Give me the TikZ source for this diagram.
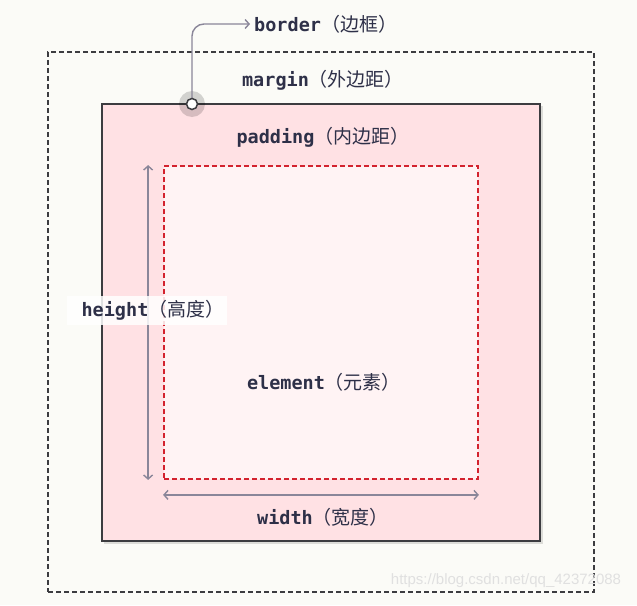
\documentclass[tikz,border=0pt]{standalone}
\usepackage{fontspec}
\setmonofont{DejaVu Sans Mono}
\newfontfamily\cjk{Noto Sans CJK SC}
\newfontfamily\wmfont{Liberation Sans}
\usetikzlibrary{arrows.meta}
\usetikzlibrary{positioning}

\definecolor{paper}{HTML}{FBFBF7}
\definecolor{ink}{HTML}{2E3048}
\definecolor{edge}{HTML}{3C3C40}
\definecolor{padfill}{HTML}{FFE1E4}
\definecolor{elemfill}{HTML}{FFF3F4}
\definecolor{elemred}{HTML}{D3222E}
\definecolor{dimgray}{HTML}{8A8699}

\newcommand{\boxtext}[2]{{\fontsize{18.5}{22}\selectfont\ttfamily\bfseries #1}{\fontsize{19}{22}\selectfont\cjk （#2）}}

\begin{document}
\begin{tikzpicture}[
		x=1pt, y=-1pt,
		label text/.style={text=ink, inner sep=4pt},
		marginbox/.style={draw=edge, line width=1.8pt, dash pattern=on 5pt off 3pt, minimum width=546pt, minimum height=540pt},
		borderbox/.style={draw=edge, fill=padfill, line width=2pt, minimum width=438pt, minimum height=437pt},
		elembox/.style={draw=elemred, fill=elemfill, line width=1.8pt, dash pattern=on 5pt off 3pt, minimum width=314pt, minimum height=313pt},
		dim/.style={draw=dimgray, line width=1.4pt, {Straight Barb[length=4pt,width=9pt]}-{Straight Barb[length=4pt,width=9pt]}},
		pointer/.style={draw=dimgray, line width=1.4pt, -{Straight Barb[length=4pt,width=9pt]}, rounded corners=12pt},
	]
	\fill[paper] (0,0) rectangle (637,605);
	\useasboundingbox (0,0) rectangle (637,605);

	% boxes
	\node (outer) [marginbox] at (321,322) {};
	\fill[black, opacity=0.12] (104,106) rectangle (543,544);
	\node (frame) [borderbox] at (321,322.5) {};
	\node (elem) [elembox] at (321,322.5) {};

	% labels
	\node (margin) [label text] at (323,80) {\boxtext{margin}{外边距}};
	\node (padding) [label text] at (323,137) {\boxtext{padding}{内边距}};
	\node (content) [label text] at (324,382) {\boxtext{element}{元素}};
	\node (width) [label text] at (323,517) {\boxtext{width}{宽度}};
	\node (border) [label text, anchor=west] at (250,24) {\boxtext{border}{边框}};

	% dimensions
	\draw[dim] ([xshift=-15pt]elem.north west) -- ([xshift=-15pt]elem.south west);
	\draw[dim] ([yshift=-15pt]elem.south west) -- ([yshift=-15pt]elem.south east);
	\node (height) [label text, fill=white, fill opacity=0.85, text opacity=1, inner xsep=3pt, minimum height=27pt] at (147,310.5) {\hspace*{12pt}\boxtext{height}{高度}};

	% border pointer
	\node (halo) [circle, fill=black, opacity=0.16, minimum size=26pt, inner sep=0pt] at (192,104) {};
	\draw[pointer] (halo.center) |- (border.west);
	\node (dot) [circle, draw=edge, fill=white, line width=1.5pt, minimum size=11pt, inner sep=0pt] at (192,104) {};

	\node (mark) [text=black!12, font=\wmfont\fontsize{15}{18}\selectfont] at (506,581) {https://blog.csdn.net/qq\_42372088};
\end{tikzpicture}
\end{document}
